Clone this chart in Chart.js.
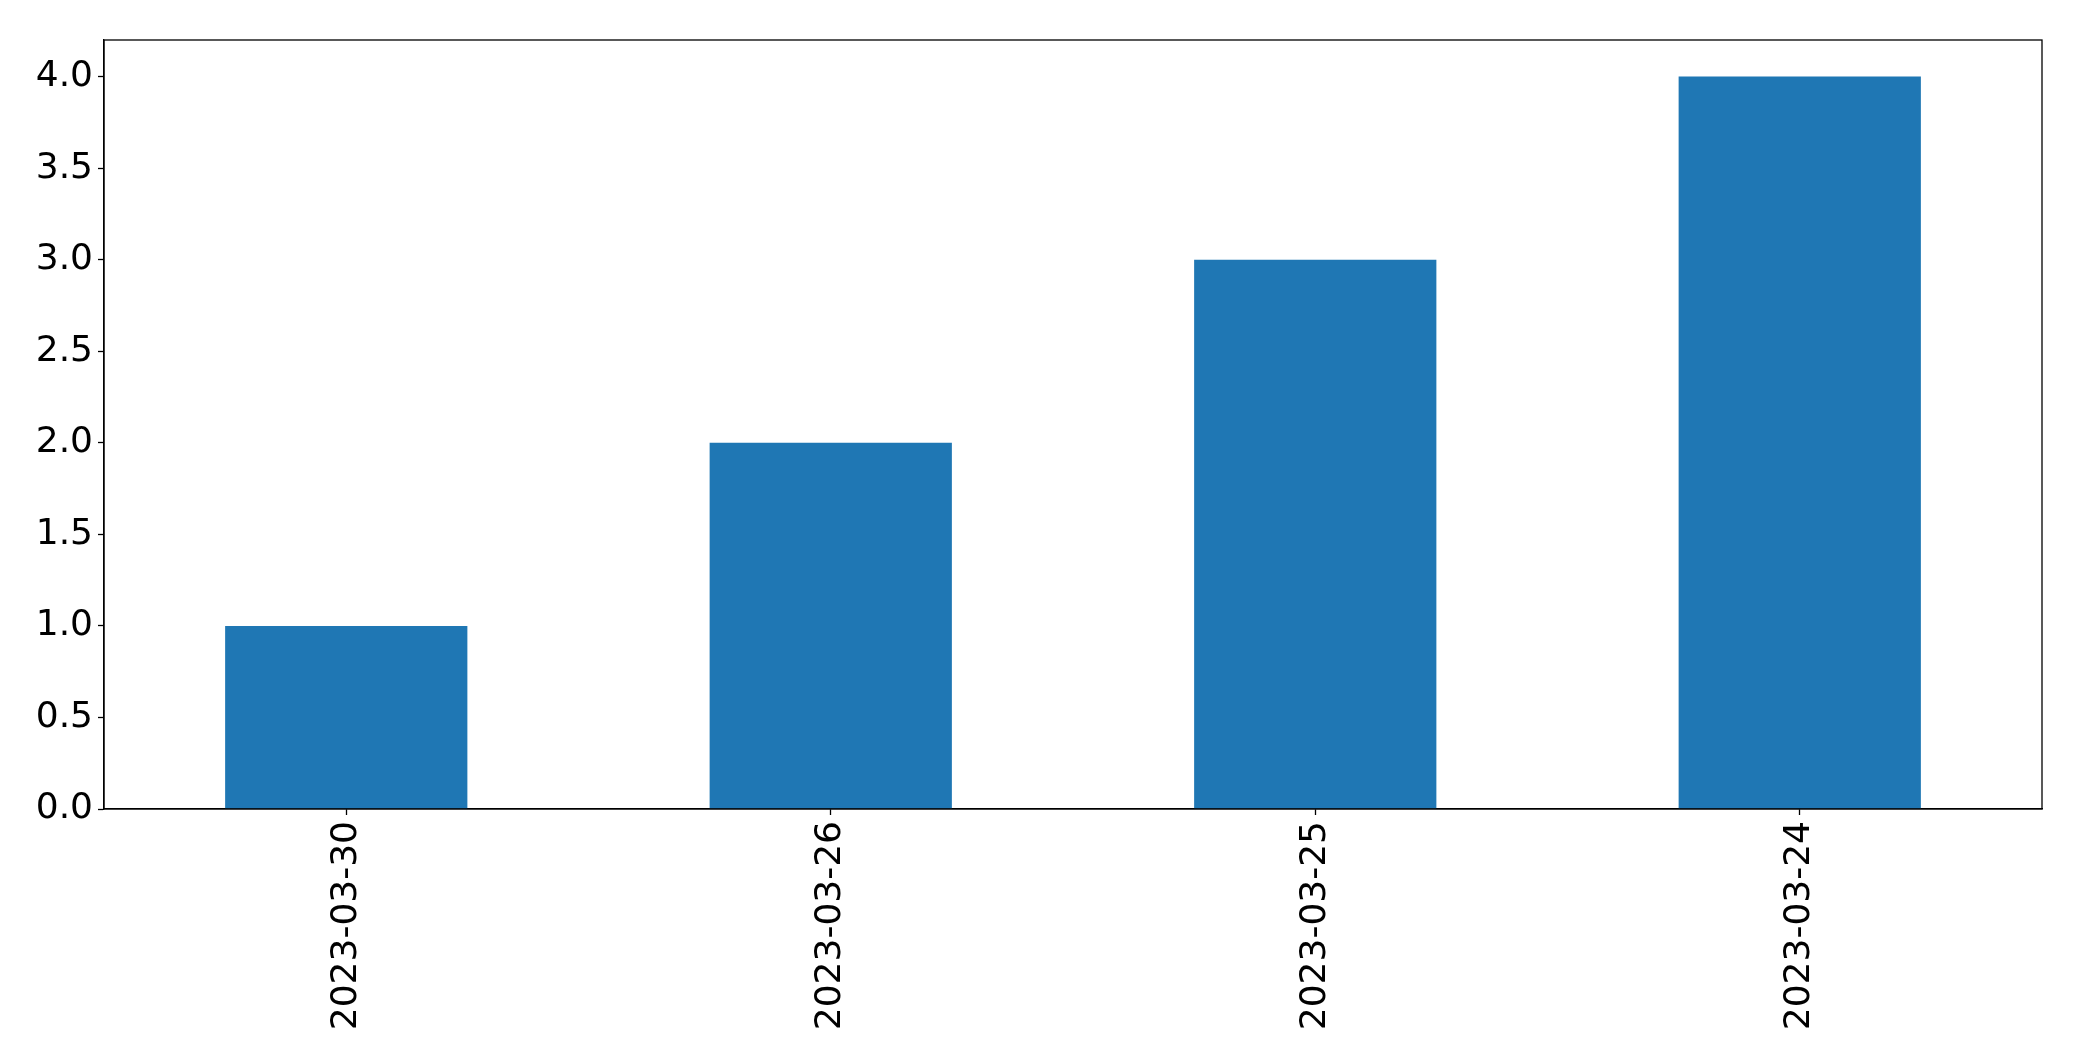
<!DOCTYPE html>
<html>
<head>
<meta charset="utf-8">
<script src="https://cdn.jsdelivr.net/npm/chart.js@4/dist/chart.umd.min.js"></script>
<style>
    body { margin: 0; background: #fff; }
    canvas { display: block; }
</style>
</head>
<body>
<canvas id="bar-chart" width="2082" height="1061"></canvas>
<script>
// data
const dates = ['2023-03-30', '2023-03-26', '2023-03-25', '2023-03-24'];
const counts = [1, 2, 3, 4];
const yTicks = [0, 0.5, 1, 1.5, 2, 2.5, 3, 3.5, 4];

const font = { family: 'DejaVu Sans', size: 36 };

// matplotlib-style frame round the plot area
const frame = {
    id: 'frame',
    afterDraw(chart) {
        const a = chart.chartArea;
        const ctx = chart.ctx;
        ctx.save();
        ctx.strokeStyle = '#000';
        ctx.lineWidth = 1.3;
        ctx.strokeRect(a.left, a.top, a.right - a.left, a.bottom - a.top);
        ctx.restore();
    }
};

Chart.defaults.animation = false;

const chart = new Chart(document.getElementById('bar-chart'), {
    type: 'bar',
    data: {
        labels: dates,
        datasets: [{
            data: counts,
            backgroundColor: '#1f77b4',
            barPercentage: 0.5,
            categoryPercentage: 1.0
        }]
    },
    options: {
        responsive: false,
        devicePixelRatio: 1,
        layout: { padding: { top: 40, right: 40, left: 0, bottom: 0 } },
        plugins: { legend: { display: false }, tooltip: { enabled: false } },
        scales: {
            x: {
                grid: { offset: false, drawOnChartArea: false, tickLength: 6, color: '#000', tickWidth: 1.3 },
                border: { color: '#000', width: 1.3 },
                ticks: { color: '#000', font: font, maxRotation: 90, minRotation: 90, padding: 6 },
                afterFit(scale) { scale.height = 252; }
            },
            y: {
                min: 0,
                max: 4.2,
                grid: { drawOnChartArea: false, tickLength: 6, color: '#000', tickWidth: 1.3 },
                border: { color: '#000', width: 1.3 },
                afterBuildTicks(scale) { scale.ticks = yTicks.map(v => ({ value: v })); },
                ticks: {
                    color: '#000',
                    font: font,
                    padding: 5,
                    callback: v => Number(v).toFixed(1)
                },
                afterFit(scale) { scale.width = 104; }
            }
        }
    },
    plugins: [frame]
});
</script>
</body>
</html>
